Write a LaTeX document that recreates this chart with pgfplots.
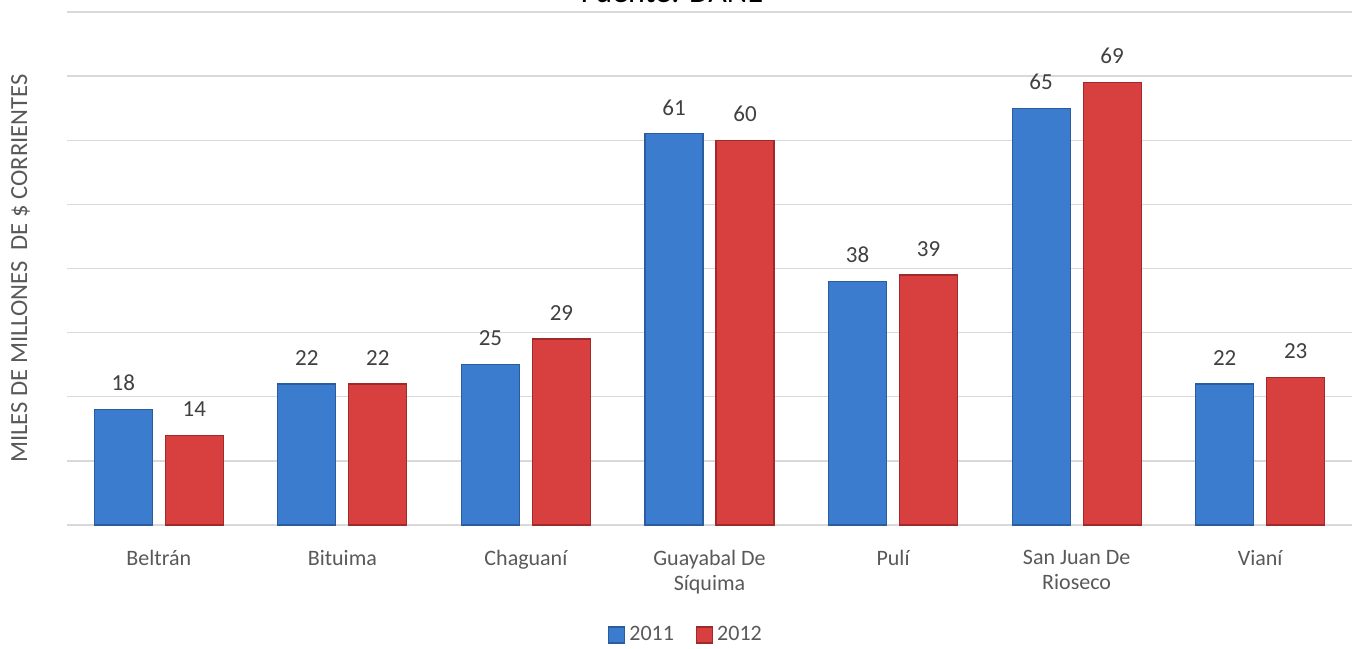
\documentclass[border=0pt]{standalone}
\usepackage{pgfplots}
\pgfplotsset{compat=1.18}
\usepackage{fontspec}
\setmainfont{Carlito}

\definecolor{txtgray}{HTML}{595959}
\definecolor{lblgray}{HTML}{404040}
\definecolor{gridgray}{HTML}{D9D9D9}
\definecolor{blmid}{HTML}{3C7CCF}
\definecolor{bldark}{HTML}{2A5C9E}
\definecolor{rdmid}{HTML}{D84040}
\definecolor{rddark}{HTML}{A02A2A}

\begin{document}
\begin{tikzpicture}
  \begin{axis}[
    scale only axis,
    width=642.5pt,
    height=256.5pt,
    ybar=6.5pt,
    bar width=29pt,
    xmin=-0.5, xmax=6.5,
    ymin=0, ymax=80,
    xtick={0,1,2,3,4,5,6},
    xticklabels={Beltrán, Bituima, Chaguaní, {Guayabal De\\Síquima}, Pulí, {San Juan De\\Rioseco}, Vianí},
    xticklabel style={font=\fontsize{11}{12.5}\selectfont, text=txtgray, align=center, yshift=-9pt},
    ytick={0,10,...,80},
    yticklabels={},
    major tick length=0pt,
    ymajorgrids=true,
    grid style={line width=0.7pt, draw=gridgray},
    axis lines*=left,
    x axis line style={line width=0.7pt, draw=gridgray},
    y axis line style={draw=none},
    ylabel={MILES DE MILLONES\ \ DE \$ CORRIENTES},
    ylabel style={font=\fontsize{12.3}{14}\selectfont, text=txtgray, at={(rel axis cs:0,0.5)}, anchor=south, yshift=15pt},
    /pgf/number format/assume math mode=true,
    nodes near coords,
    every node near coord/.append style={font=\fontsize{11.5}{13}\selectfont, text=lblgray, anchor=south, inner sep=0pt, yshift=9pt},
    legend style={
      at={(0.4825,-0.2144)},
      anchor=center,
      draw=none,
      legend columns=2,
      font=\fontsize{11}{13}\selectfont,
      text=txtgray,
      /tikz/every even column/.append style={column sep=9pt}
    },
    legend image code/.code={\draw[#1] (0pt,-4pt) rectangle (8pt,4pt);},
  ]

  % 2011
  \addplot[draw=bldark, line width=0.6pt, fill=blmid] coordinates {
    (0, 18) (1, 22) (2, 25) (3, 61) (4, 38) (5, 65) (6, 22)
  };
  \addlegendentry{2011}

  % 2012
  \addplot[draw=rddark, line width=0.6pt, fill=rdmid] coordinates {
    (0, 14) (1, 22) (2, 29) (3, 60) (4, 39) (5, 69) (6, 23)
  };
  \addlegendentry{2012}

  \end{axis}
  \node[anchor=base, font=\fontsize{16}{19}\selectfont, text=black] at (302.5pt,261pt) {Fuente: DANE};
  \pgfresetboundingbox
  \path[use as bounding box] (-33.5pt,-61.5pt) rectangle (643.5pt,262.5pt);
\end{tikzpicture}
\end{document}
